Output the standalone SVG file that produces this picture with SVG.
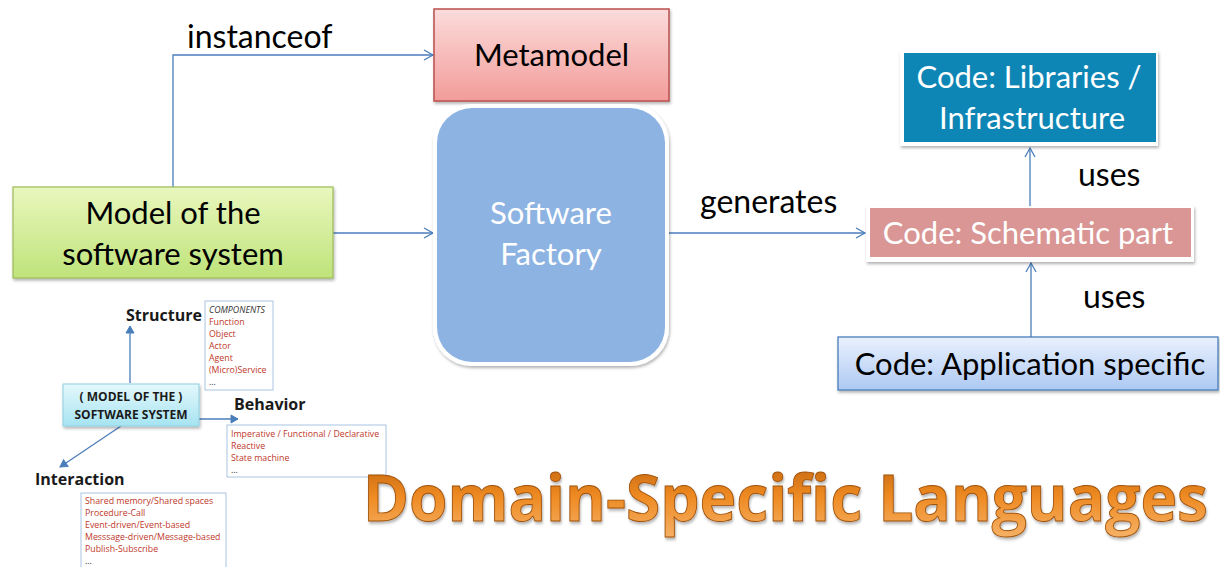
<svg xmlns="http://www.w3.org/2000/svg" width="1220" height="567" viewBox="0 0 1220 567">
<defs>
<linearGradient id="gRed" x1="0" y1="0" x2="0" y2="1"><stop offset="0" stop-color="#fbdcdb"/><stop offset="1" stop-color="#f29c9a"/></linearGradient>
<linearGradient id="gGreen" x1="0" y1="0" x2="0" y2="1"><stop offset="0" stop-color="#e9f7bd"/><stop offset="1" stop-color="#bfe37a"/></linearGradient>
<linearGradient id="gBlue" x1="0" y1="0" x2="0" y2="1"><stop offset="0" stop-color="#eaf1fd"/><stop offset="1" stop-color="#adc9f3"/></linearGradient>
<linearGradient id="gCyan" x1="0" y1="0" x2="0" y2="1"><stop offset="0" stop-color="#e4f8fc"/><stop offset="1" stop-color="#a6e3f1"/></linearGradient>
<linearGradient id="gOrange" x1="0" y1="0" x2="0" y2="1"><stop offset="0" stop-color="#b85d0c"/><stop offset="0.5" stop-color="#ee8a22"/><stop offset="1" stop-color="#f6b36a"/></linearGradient>
<filter id="sh" x="-10%" y="-10%" width="120%" height="130%"><feDropShadow dx="1" dy="2" stdDeviation="1.5" flood-color="#000" flood-opacity="0.3"/></filter>
<filter id="tsh" x="-5%" y="-40%" width="110%" height="180%"><feDropShadow dx="1" dy="2" stdDeviation="1.2" flood-color="#000" flood-opacity="0.3"/></filter>
<marker id="arr" markerWidth="12" markerHeight="12" refX="10" refY="6" orient="auto" markerUnits="userSpaceOnUse"><path d="M1,1 L10,6 L1,11" fill="none" stroke="#4a7ebb" stroke-width="1.3"/></marker>
<marker id="arrS" markerWidth="10" markerHeight="10" refX="8" refY="5" orient="auto" markerUnits="userSpaceOnUse"><path d="M1,1 L8,5 L1,9 Z" fill="#4a7ebb" stroke="#4a7ebb" stroke-width="1"/></marker>
</defs>
<style>
.t{font-family:Lato,"Open Sans","Liberation Sans",sans-serif;}
.big{font-size:31px;fill:#000;}
.wh{fill:#fff;}
.lab{font-size:32px;fill:#000;}
.sb{font-family:"Open Sans","Liberation Sans",sans-serif;font-weight:bold;fill:#1a1a1a;}
.sm{font-family:"Open Sans","Liberation Sans",sans-serif;font-size:8.8px;fill:#c0392b;}
.c{stroke:#4a7ebb;stroke-width:1.3;fill:none;}
.lb{fill:#fff;stroke:#a9c4e4;stroke-width:1;}
</style>
<rect width="1220" height="567" fill="#fff"/>

<g id="connectors">
<path class="c" d="M173,187 V55 H433" marker-end="url(#arr)"/>
<path class="c" d="M333,233 H433" marker-end="url(#arr)"/>
<path class="c" d="M669,233 H865" marker-end="url(#arr)"/>
<path class="c" d="M1030,207 V148" marker-end="url(#arr)"/>
<path class="c" d="M1031,337 V263" marker-end="url(#arr)"/>
<path class="c" stroke-width="1.5" d="M130,383 V326" marker-end="url(#arrS)"/>
<path class="c" stroke-width="1.5" d="M199,419 H238" marker-end="url(#arrS)"/>
<path class="c" stroke-width="1.5" d="M121,426 L60,467" marker-end="url(#arrS)"/>
<text class="t lab" x="187" y="48">instanceof</text>
<text class="t lab" x="700" y="213">generates</text>
<text class="t lab" x="1078" y="186">uses</text>
<text class="t lab" x="1083" y="308">uses</text>
</g>

<g id="metamodel">
<rect x="434" y="9" width="235" height="92" fill="url(#gRed)" stroke="#b9504d" stroke-width="1.5" filter="url(#sh)"/>
<text class="t big" x="551.5" y="66" text-anchor="middle">Metamodel</text>
</g>

<g id="software-factory">
<rect x="433" y="104" width="236" height="262" rx="38" fill="#fff" filter="url(#sh)"/>
<rect x="437" y="108" width="228" height="254" rx="35" fill="#8db3e2"/>
<text class="t big wh" x="551" y="224" text-anchor="middle">Software</text>
<text class="t big wh" x="551" y="265" text-anchor="middle">Factory</text>
</g>

<g id="model">
<rect x="13" y="187" width="320" height="91" fill="url(#gGreen)" stroke="#9bbb59" stroke-width="1.2" filter="url(#sh)"/>
<text class="t big" x="173" y="224" text-anchor="middle" font-size="32">Model of the</text>
<text class="t big" x="173" y="265" text-anchor="middle" font-size="32">software system</text>
</g>

<g id="libraries">
<rect x="900" y="51" width="258" height="95" fill="#fff" filter="url(#sh)"/>
<rect x="904" y="53" width="252" height="89" fill="#0e86b5"/>
<text class="t big wh" x="1029" y="88" text-anchor="middle">Code: Libraries /</text>
<text class="t big wh" x="1032" y="129" text-anchor="middle">Infrastructure</text>
</g>

<g id="schematic">
<rect x="866" y="206" width="328" height="56" fill="#fff" filter="url(#sh)"/>
<rect x="870" y="208" width="321" height="49" fill="#d99694"/>
<text class="t big wh" x="1028" y="244" text-anchor="middle">Code: Schematic part</text>
</g>

<g id="application">
<rect x="838" y="337" width="380" height="53" fill="url(#gBlue)" stroke="#4a7ebb" stroke-width="1.3" filter="url(#sh)"/>
<text class="t big" x="1030" y="375" text-anchor="middle">Code: Application specific</text>
</g>

<g id="mini-model">
<rect x="63" y="384" width="136" height="42" fill="url(#gCyan)" stroke="#8fd0e0" stroke-width="1" filter="url(#sh)"/>
<text class="sb" x="131" y="401" font-size="12" text-anchor="middle">( MODEL OF THE )</text>
<text class="sb" x="131" y="419" font-size="12" text-anchor="middle">SOFTWARE SYSTEM</text>
</g>

<g id="structure">
<text class="sb" x="126" y="321" font-size="16">Structure</text>
<rect class="lb" x="205" y="301" width="68" height="89"/>
<text class="sm" x="209" y="313" font-style="italic" style="fill:#333">COMPONENTS</text>
<text class="sm" x="209" y="325">Function</text>
<text class="sm" x="209" y="337">Object</text>
<text class="sm" x="209" y="349">Actor</text>
<text class="sm" x="209" y="361">Agent</text>
<text class="sm" x="209" y="373">(Micro)Service</text>
<text class="sm" x="209" y="385" style="fill:#333">...</text>
</g>

<g id="behavior">
<text class="sb" x="234" y="410" font-size="16">Behavior</text>
<rect class="lb" x="227" y="425" width="159" height="52"/>
<text class="sm" x="231" y="437">Imperative / Functional / Declarative</text>
<text class="sm" x="231" y="449">Reactive</text>
<text class="sm" x="231" y="461">State machine</text>
<text class="sm" x="231" y="473" style="fill:#333">...</text>
</g>

<g id="interaction">
<text class="sb" x="35" y="485" font-size="16">Interaction</text>
<rect class="lb" x="81" y="493" width="145" height="80"/>
<text class="sm" x="85" y="504">Shared memory/Shared spaces</text>
<text class="sm" x="85" y="516">Procedure-Call</text>
<text class="sm" x="85" y="528">Event-driven/Event-based</text>
<text class="sm" x="85" y="540">Messsage-driven/Message-based</text>
<text class="sm" x="85" y="552">Publish-Subscribe</text>
<text class="sm" x="85" y="564" style="fill:#333">...</text>
</g>

<g id="title" transform="translate(363,521) scale(1,1.12)">
<text x="0" y="0" font-family="'Open Sans','Liberation Sans',sans-serif" font-weight="bold" font-size="57" fill="url(#gOrange)" stroke="#a0520a" stroke-width="0.8" textLength="845" lengthAdjust="spacingAndGlyphs" filter="url(#tsh)">Domain-Specific Languages</text>
</g>
</svg>
